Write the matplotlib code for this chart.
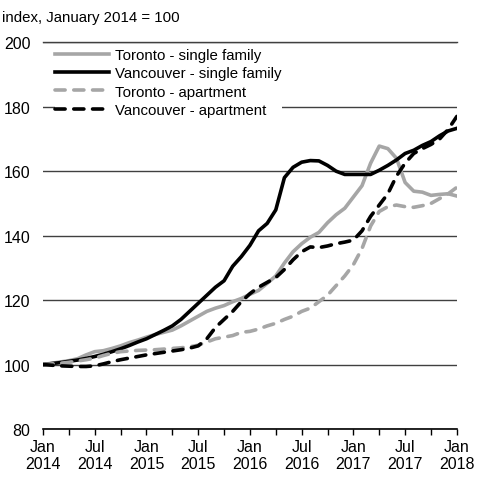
import numpy as np
import matplotlib
matplotlib.use("Agg")
import matplotlib.pyplot as plt

plt.rcParams['font.family'] = ['Liberation Sans', 'DejaVu Sans']

# monthly index, Jan 2014 .. Jan 2018
tor_sf = [100, 100.4, 100.8, 101.2, 101.8, 103, 104, 104.3, 105, 105.8,
          106.8, 107.6, 108.5, 109.3, 110, 110.7, 112, 113.5, 115, 116.5,
          117.5, 118.3, 119.5, 120.5, 121.8, 123, 125.2, 127.5, 131.5, 135,
          137.5, 139.5, 141, 144, 146.5, 148.5, 152, 155.5, 162.5, 167.8,
          167, 164, 156.5, 153.8, 153.5, 152.5, 152.8, 153, 152.3]
van_sf = [100, 100.3, 100.6, 101, 101.4, 101.9, 102.5, 103.2, 104, 104.9,
          105.9, 107, 108, 109.3, 110.6, 112, 114, 116.5, 119, 121.5,
          124, 126, 130.5, 133.5, 137, 141.5, 143.8, 148, 158, 161.2,
          162.8, 163.3, 163.2, 161.8, 160, 159, 159, 159, 159, 160.3,
          161.8, 163.5, 165.5, 166.5, 168, 169.2, 171, 172.5, 173.3]
tor_apt = [100, 100.2, 100.4, 100.7, 101.1, 101.5, 102, 102.8, 103.5, 104,
           104.2, 104.4, 104.5, 104.6, 104.8, 105, 105.2, 105.5, 106, 107,
           108, 108.5, 109, 110, 110.3, 111, 112, 112.8, 114, 115,
           116.5, 117.5, 119.5, 121.5, 124.5, 127.5, 131, 136, 143, 147.5,
           149, 149.5, 149, 148.8, 149.3, 150, 151.5, 153, 155]
van_apt = [100, 99.8, 99.6, 99.5, 99.4, 99.4, 99.6, 100.2, 100.9, 101.5,
           102, 102.5, 103, 103.4, 103.8, 104.2, 104.6, 105.1, 105.8, 108,
           111.5, 114, 116.5, 119.5, 122, 124, 125.5, 127, 129.5, 132.5,
           135, 136.5, 136.3, 136.8, 137.5, 138, 138.6, 141.5, 146, 149.5,
           153, 158.5, 162.5, 165.5, 167, 168.3, 170, 173, 177]

tick_labels = ['Jan\n2014', 'Jul\n2014', 'Jan\n2015', 'Jul\n2015', 'Jan\n2016',
               'Jul\n2016', 'Jan\n2017', 'Jul\n2017', 'Jan\n2018']

months = np.arange(len(tor_sf))
grey = '#A6A6A6'
dash = (0, (2.8, 2.4))

fig = plt.figure(figsize=(4.86, 4.85), dpi=100)
ax = fig.add_axes([0.0885, 0.1134, 0.8515, 0.7973])

ax.plot(months, tor_sf, color=grey, lw=2.6, label='Toronto - single family')
ax.plot(months, van_sf, color='black', lw=2.6, label='Vancouver - single family')
ax.plot(months, tor_apt, color=grey, lw=2.6, ls=dash, dash_capstyle='round',
        label='Toronto - apartment')
ax.plot(months, van_apt, color='black', lw=2.6, ls=dash, dash_capstyle='round',
        label='Vancouver - apartment')

ax.set_xlim(0, 48)
ax.set_ylim(80, 200)
ax.set_yticks(np.arange(80, 201, 20))
ax.set_xticks(np.arange(0, 49, 6))
ax.set_xticks(np.arange(0, 49, 3), minor=True)
ax.set_xticklabels(tick_labels)
ax.tick_params(axis='y', length=0, pad=9, labelsize=11.5)
ax.tick_params(axis='x', which='both', length=4, width=1, direction='out',
               pad=3, labelsize=11.5)
ax.yaxis.grid(True, color='#404040', lw=1)
ax.set_axisbelow(True)
for s in ['left', 'right', 'top']:
    ax.spines[s].set_visible(False)
ax.spines['bottom'].set_linewidth(1.2)
# keep top gridline visible over the legend box
ax.axhline(200, color='#404040', lw=1, zorder=10, clip_on=False)

leg = ax.legend(loc='upper left', bbox_to_anchor=(0.01, 1.004), frameon=True,
                fancybox=False, edgecolor='none', facecolor='white', framealpha=1,
                handlelength=3.6, handletextpad=0.45, labelspacing=0.28,
                borderpad=0.0, fontsize=10.8)

fig.text(0.004, 0.963, 'index, January 2014 = 100', fontsize=10.8, va='center')

fig.savefig('out.png', dpi=100)
